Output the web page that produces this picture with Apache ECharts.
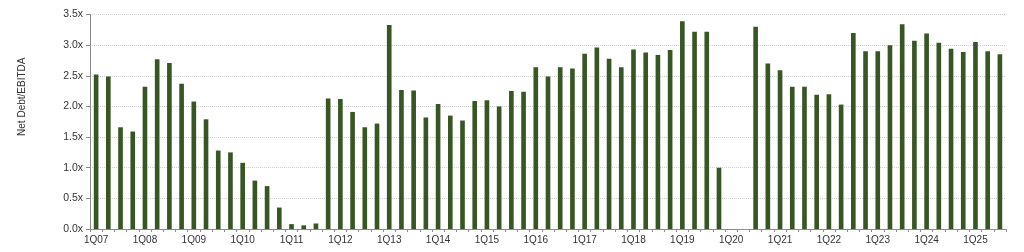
<!DOCTYPE html>
<html>
<head>
<meta charset="utf-8">
<script src="https://cdn.jsdelivr.net/npm/echarts@6/dist/echarts.min.js"></script>
<style>
html,body{margin:0;padding:0;background:#fff;}
#c{width:1024px;height:252px;}
</style>
</head>
<body>
<div id="c"></div>
<script>
// Quarters 1Q07 .. 3Q25
const years = ['07','08','09','10','11','12','13','14','15','16','17','18','19','20','21','22','23','24','25'];
const categories = [];
years.forEach(y => { for (let q = 1; q <= 4; q++) { if (y === '25' && q > 3) break; categories.push(q + 'Q' + y); } });

const values2007_2012 = [2.52,2.49,1.66,1.59, 2.32,2.77,2.71,2.37, 2.08,1.79,1.28,1.25, 1.08,0.79,0.70,0.35, 0.08,0.06,0.09,2.13, 2.12,1.91,1.66,1.72];
const values2013_2018 = [3.33,2.27,2.26,1.82, 2.04,1.85,1.77,2.09, 2.10,2.00,2.25,2.24, 2.64,2.49,2.64,2.62, 2.86,2.96,2.78,2.64, 2.93,2.88,2.84,2.92];
const values2019_2025 = [3.39,3.22,3.22,1.00, null,null,3.30,2.70, 2.59,2.32,2.32,2.19, 2.20,2.03,3.20,2.90, 2.90,3.00,3.34,3.07, 3.19,3.04,2.94,2.89, 3.05,2.90,2.85];
const values = values2007_2012.concat(values2013_2018, values2019_2025);

const chart = echarts.init(document.getElementById('c'), null, {renderer:'canvas'});
chart.setOption({
  animation:false,
  grid:{left:90,right:18,top:14.5,bottom:23,containLabel:false},
  xAxis:{
    type:'category',
    data:categories,
    boundaryGap:true,
    axisLine:{lineStyle:{color:'#8c8c8c',width:1}},
    axisTick:{show:true,interval:0,length:3,lineStyle:{color:'#8c8c8c'}},
    axisLabel:{interval:3,color:'#333',fontFamily:'Liberation Sans, Arial',fontSize:10,margin:6},
    splitLine:{show:false}
  },
  yAxis:{
    type:'value',
    min:0,max:3.5,interval:0.5,
    name:'Net Debt/EBITDA',
    nameLocation:'middle',
    nameGap:63,
    nameRotate:90,
    nameTextStyle:{color:'#333',fontFamily:'Liberation Sans, Arial',fontSize:10,padding:[0,0,0,50]},
    axisLine:{show:true,lineStyle:{color:'#8c8c8c',width:1}},
    axisTick:{show:true,length:4,inside:false,lineStyle:{color:'#8c8c8c'}},
    axisLabel:{color:'#333',fontFamily:'Liberation Sans, Arial',fontSize:10.5,margin:7,
      formatter:v=>v.toFixed(1)+'x'},
    splitLine:{show:true,lineStyle:{color:'#d0d0d0',type:'dotted',width:1}}
  },
  series:[{
    type:'bar',
    data:values,
    barWidth:'38%',
    itemStyle:{color:'#375623'}
  }]
});
</script>
</body>
</html>
